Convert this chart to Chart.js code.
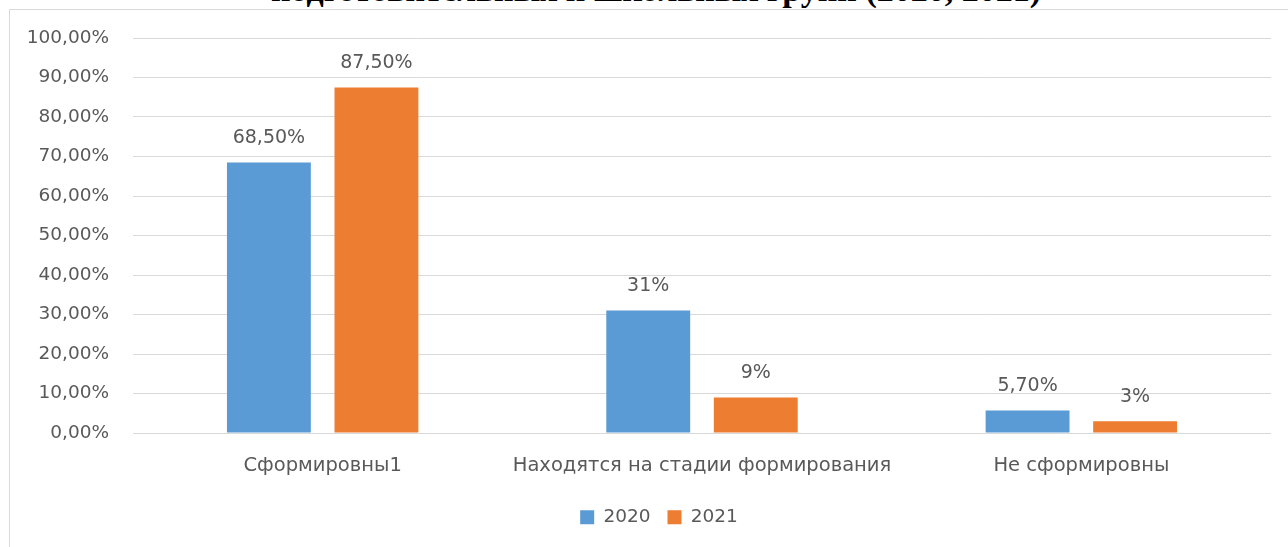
<!DOCTYPE html>
<html lang="ru">
  <head>
    <meta charset="UTF-8" />
    <title>Сформированность (2020, 2021)</title>
    <script src="https://cdn.jsdelivr.net/npm/chart.js@4.4.1/dist/chart.umd.min.js"></script>
    <style>
      html, body { margin: 0; padding: 0; background: #fff; }
      #wrap { position: relative; width: 1288px; height: 547px; overflow: hidden; }
      #title { position: absolute; left: 0; top: 0; width: 1288px; height: 9px; overflow: hidden; }
      #title div {
        position: absolute; left: 12px; top: -27px; width: 1288px; text-align: center;
        font: bold 34px "Liberation Serif", serif; line-height: 34px; color: #000; white-space: nowrap;
      }
      #chart { position: absolute; left: 0; top: 0; }
    </style>
  </head>
  <body>
    <div id="wrap">
      <div id="title"><div>подготовительных и школьных групп (2020, 2021)</div></div>
      <canvas id="chart" width="1288" height="547"></canvas>
    </div>
    <script>
      const categories = ["Сформировны1", "Находятся на стадии формирования", "Не сформировны"];
      const years = ["2020", "2021"];
      const values2020 = [68.5, 31, 5.7];
      const values2021 = [87.5, 9, 3];
      const labels2020 = ["68,50%", "31%", "5,70%"];
      const labels2021 = ["87,50%", "9%", "3%"];

      const textColor = "#595959";
      const fontName = "'DejaVu Sans', sans-serif";

      // рамка, сдвиг легенды и подписи над столбцами
      const extras = {
        id: "extras",
        afterLayout(chart) {
          chart.legend.left += 47;
        },
        beforeDraw(chart) {
          const ctx = chart.ctx;
          ctx.save();
          ctx.strokeStyle = "#d9d9d9";
          ctx.lineWidth = 1;
          ctx.beginPath();
          ctx.moveTo(9.5, 547);
          ctx.lineTo(9.5, 9.5);
          ctx.lineTo(1288, 9.5);
          ctx.stroke();
          ctx.restore();
        },
        afterDatasetsDraw(chart) {
          const ctx = chart.ctx;
          const texts = [labels2020, labels2021];
          ctx.save();
          ctx.font = "19px " + fontName;
          ctx.fillStyle = textColor;
          ctx.textAlign = "center";
          ctx.textBaseline = "middle";
          chart.data.datasets.forEach((ds, i) => {
            chart.getDatasetMeta(i).data.forEach((bar, j) => {
              ctx.fillText(texts[i][j], bar.x, bar.y - 24);
            });
          });
          ctx.restore();
        }
      };

      const ctx = document.getElementById("chart").getContext("2d");
      const myChart = new Chart(ctx, {
        type: "bar",
        data: {
          labels: categories,
          datasets: [
            {
              label: years[0],
              data: values2020,
              backgroundColor: "#5b9bd5",
              categoryPercentage: 0.567,
              barPercentage: 0.78
            },
            {
              label: years[1],
              data: values2021,
              backgroundColor: "#ed7d31",
              categoryPercentage: 0.567,
              barPercentage: 0.78
            }
          ]
        },
        options: {
          responsive: false,
          animation: false,
          layout: { padding: { left: 0, right: 17, top: 38, bottom: 16 } },
          scales: {
            x: {
              grid: { display: false },
              border: { display: false },
              ticks: { color: textColor, font: { family: fontName, size: 19.5 }, padding: 13, maxRotation: 0, autoSkip: false },
              afterFit: s => { s.height = 58; }
            },
            y: {
              min: 0,
              max: 100,
              grid: { color: "#d9d9d9", drawTicks: false },
              border: { display: false },
              ticks: {
                stepSize: 10,
                color: textColor,
                font: { family: fontName, size: 18.5 },
                padding: 24,
                callback: v => v.toFixed(2).replace(".", ",") + "%"
              },
              afterFit: s => { s.width = 133; }
            }
          },
          plugins: {
            legend: {
              position: "bottom",
              maxHeight: 40,
              labels: { color: textColor, font: { family: fontName, size: 18.5 }, boxWidth: 14, boxHeight: 14, padding: 17 }
            },
            tooltip: { enabled: false }
          }
        },
        plugins: [extras]
      });
    </script>
  </body>
</html>
